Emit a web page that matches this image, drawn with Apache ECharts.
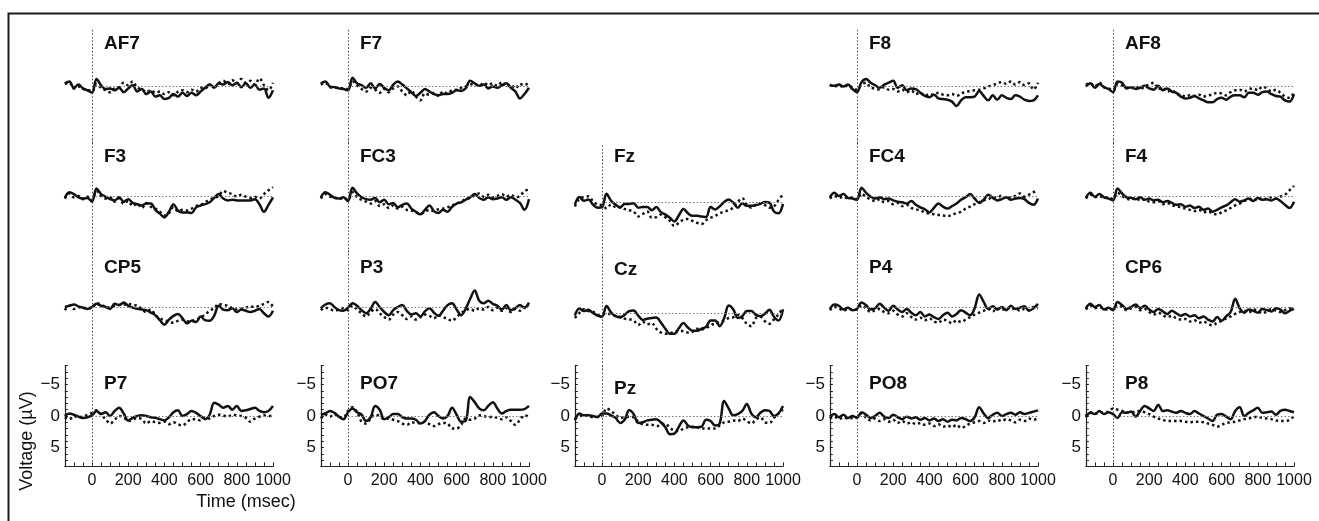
<!DOCTYPE html>
<html><head><meta charset="utf-8">
<script src="https://cdn.jsdelivr.net/npm/echarts@6/dist/echarts.min.js"></script>
<style>html,body{margin:0;padding:0;background:#fff}#c{width:1319px;height:521px}</style>
</head><body><div id="c"></div>
<script>
// time points (ms)
const times = [-150,-125,-100,-75,-50,-25,0,25,50,75,100,125,150,175,200,225,250,275,300,325,350,375,400,425,450,475,500,525,550,575,600,625,650,675,700,725,750,775,800,825,850,875,900,925,950,975,1000];
const xTickLabels = [0,200,400,600,800,1000];
const yTickLabels = [-5,0,5];

// voltages (µV), negative plotted upward
const AF7_solid = [-0.5,-0.8,0.2,-0.3,0.3,0.6,1.0,-1.2,-0.2,0.4,0.3,0.6,0.2,0.9,0.3,-0.2,0.8,0.4,1.2,0.8,1.6,1.4,2.0,1.8,1.2,1.6,1.0,1.5,1.0,1.4,0.8,0.2,-0.3,0.2,-0.5,-0.3,-0.7,-0.2,-0.6,0.1,-0.5,0.2,-0.3,0.5,0.3,1.8,0.6];
const AF7_dotted = [-0.4,-0.6,0.3,0,0.4,0.5,0.8,-0.4,0.2,0.6,0.9,0.3,0.1,-0.6,-0.2,-0.8,0.2,0.4,0.9,0.6,1.0,0.8,1.2,0.9,1.4,0.8,0.6,0.9,0.5,0.8,0.2,0.3,-0.3,0.1,-0.5,-0.9,-0.4,-1.0,-0.5,-1.2,-0.6,-0.9,-0.3,-1.3,-0.2,0.6,-0.6];
const F7_solid = [-0.5,-0.8,0.0,0.1,0.3,0.4,0.6,-1.4,-0.5,-0.2,0.2,-0.5,0.3,-0.4,0.2,0.6,-0.3,-0.8,-0.3,0.3,0.9,1.5,1.0,0.4,0.8,1.2,1.4,1.2,1.2,1.0,0.6,0.7,0.3,-0.9,-0.5,-0.1,-0.3,0.3,0.0,0.2,-0.2,-0.5,0.2,0.8,1.9,1.2,0.2];
const F7_dotted = [-0.3,-0.6,0.1,0.2,0.2,0.3,0.4,-0.8,-0.2,0.4,0.8,0.2,0.5,1.0,0.4,0.9,0.3,0.0,0.8,1.4,0.7,1.6,2.2,1.1,1.3,1.0,1.5,0.8,1.1,0.6,0.5,0.2,0.0,-0.3,-0.4,-0.1,-0.6,-0.2,-0.5,-0.1,-0.7,0.0,-0.3,0.3,-0.4,-0.2,-0.7];
const F8_solid = [-0.2,-0.1,-0.3,0.0,-0.3,0.4,0.9,-0.7,-1.2,-0.6,-0.2,0.2,-0.3,-0.6,-0.9,0.2,-0.2,0.6,0.3,0.4,1.0,1.5,1.7,1.3,1.9,2.0,2.1,2.4,3.1,2.2,1.7,1.7,1.6,0.7,1.5,2.2,1.4,2.1,1.4,1.8,2.0,1.4,1.6,2.1,2.3,2.2,1.4];
const F8_dotted = [-0.3,0.0,-0.2,0.1,-0.2,0.2,0.5,-0.3,-0.6,0.2,0.3,0.5,0.1,0.5,0.4,0.8,0.5,0.9,0.6,1.2,1.0,1.5,1.2,1.3,1.0,1.3,1.4,1.2,1.5,1.1,0.9,0.7,0.6,0.5,0.3,0.0,-0.2,-0.5,-0.7,-0.4,-0.8,-0.3,-0.7,-0.2,-0.5,0.5,-0.6];
const AF8_solid = [0.0,-0.5,0.2,-0.4,0.1,0.4,0.9,-0.8,-0.6,0.3,0.1,0.4,0.2,-0.1,0.3,0.5,-0.1,0.6,0.3,0.8,1.0,1.6,1.9,1.8,1.5,1.9,2.2,2.5,2.5,2.0,1.8,2.1,1.6,1.4,1.4,1.7,1.0,1.0,1.3,0.9,0.8,1.2,1.5,1.6,2.2,2.4,1.2];
const AF8_dotted = [-0.3,-0.5,0.0,-0.6,0.1,0.3,0.6,-0.4,-0.2,0.1,0.3,0.0,0.4,0.0,-0.3,-0.6,0.4,0.2,0.8,0.6,1.2,1.3,1.6,1.4,1.5,1.3,1.6,1.4,1.3,1.0,1.1,1.4,0.9,0.6,0.5,0.8,0.4,0.3,0.6,0.0,0.3,0.8,0.5,1.0,1.6,1.8,0.9];

const F3_solid = [0.3,-0.6,-0.3,0.2,0.4,0.3,0.9,-1.2,-0.3,0.1,0.5,0.7,0.2,0.9,0.5,1.1,1.3,1.5,1.2,1.2,2.2,2.8,3.4,2.5,1.3,2.3,2.6,2.6,2.7,1.8,1.5,1.3,1.0,0.3,-0.3,0.4,0.7,0.6,0.7,0.7,0.7,0.7,0.5,1.3,2.5,1.4,0.2];
const F3_dotted = [0.4,-0.4,0.2,0.0,0.5,0.1,0.6,-0.8,0.0,0.4,0.2,0.9,0.4,1.2,0.8,1.6,1.2,1.9,1.1,1.7,2.0,2.5,3.1,2.7,1.8,2.4,2.2,2.3,2.0,1.6,1.4,1.0,0.6,0.3,0.0,-0.8,-0.5,-0.3,0.1,-0.2,0.1,0.3,0.1,0.4,-0.3,-0.9,-1.4];
const FC3_solid = [0.2,-0.6,-0.2,0.3,0.4,0.2,0.8,-1.3,-0.4,0.2,0.5,0.6,0.3,1.0,0.6,1.3,1.1,1.8,1.4,1.2,2.0,2.5,2.9,2.2,1.5,2.4,2.7,2.2,2.5,1.7,1.2,1.0,0.6,0.2,-0.3,0.3,0.6,0.2,0.5,0.4,0.2,0.6,0.2,0.6,1.1,2.2,0.5];
const FC3_dotted = [0.4,-0.3,0.1,0.2,0.5,0.3,0.6,-0.6,0.2,0.6,0.9,1.2,0.8,1.6,1.3,1.9,1.5,2.0,1.7,2.2,2.3,2.6,2.8,2.5,2.2,2.4,2.1,2.0,1.8,1.5,1.2,0.9,0.5,0.3,-0.1,-0.4,0.1,-0.2,0.2,0.0,-0.3,0.1,-0.2,0.2,0.0,-0.8,-1.0];
const Fz_solid = [0.4,-0.8,-0.2,-0.4,0.4,0.9,0.8,-1.3,-0.2,0.4,0.9,0.3,0.3,0.2,0.9,0.8,0.8,1.3,0.8,1.6,2.0,2.5,3.1,2.1,1.1,1.8,2.2,2.2,2.3,2.4,0.8,1.2,0.7,0.0,-0.4,0.1,0.9,0.2,0.6,0.6,0.5,0.3,0.0,0.1,1.5,1.8,0.3];
const Fz_dotted = [0.7,-0.5,-0.8,-0.9,-0.1,0.4,0.5,1.0,0.4,0.8,0.8,1.1,1.3,1.5,2.3,1.9,1.5,2.5,2.4,2.0,2.4,3.0,3.8,3.3,2.8,2.7,3.0,3.3,3.5,2.9,2.5,2.2,1.8,1.5,1.3,0.9,0.0,-0.6,0.4,0.9,0.4,0.2,0.5,0.9,0.7,-0.3,-1.2];
const FC4_solid = [0.2,-0.5,0.0,-0.3,0.3,0.4,0.6,-1.3,-0.5,0.1,0.4,0.2,0.5,0.4,0.7,0.9,1.0,1.2,0.8,1.4,1.8,2.1,2.6,1.9,1.2,1.7,2.0,1.6,1.2,0.6,0.2,-0.3,0.4,1.1,0.6,-0.2,0.3,0.7,0.5,0.2,0.6,0.4,0.3,0.5,1.1,1.4,0.4];
const FC4_dotted = [0.4,0.0,0.3,0.1,0.4,0.2,0.5,-0.4,0.2,0.5,0.8,0.5,1.0,0.8,1.3,1.1,1.6,1.4,1.9,2.1,2.3,2.6,2.8,2.9,3.0,3.1,3.2,3.0,2.7,2.5,2.0,1.7,1.3,1.0,0.7,0.5,0.2,0.3,-0.1,0.4,0.2,0.0,-0.4,0.1,-0.2,-0.6,-0.9];
const F4_solid = [0.3,-0.5,0.1,-0.3,0.2,0.4,0.7,-1.2,-0.4,0.2,0.3,0.5,0.2,0.6,0.4,0.7,0.6,1.0,0.8,1.1,1.4,1.3,1.7,1.5,1.9,1.7,2.2,2.0,2.5,2.2,1.8,1.5,1.0,0.5,0.9,0.7,0.4,0.8,0.3,0.6,0.5,0.7,0.4,0.8,1.4,1.9,0.9];
const F4_dotted = [0.4,-0.2,0.2,0.0,0.3,0.2,0.5,-0.5,0.0,0.4,0.6,0.3,0.7,0.5,0.9,1.0,0.8,1.3,1.1,1.5,1.6,1.8,2.0,2.2,2.4,2.2,2.6,2.4,2.8,2.9,2.6,2.3,1.9,1.5,1.2,0.8,0.6,0.4,0.7,0.3,0.5,0.2,0.4,0.1,-0.2,-0.9,-1.6];

const CP5_solid = [0.0,-0.2,-0.4,-0.1,0.1,0.3,0.0,-0.5,-0.2,0.0,0.3,-0.5,-0.3,-0.7,-0.2,0.1,0.3,0.4,0.5,0.9,1.3,2.1,2.8,2.0,1.4,1.1,1.8,2.6,2.2,2.4,1.5,2.1,2.2,1.4,-0.2,0.4,0.5,0.2,0.8,0.4,0.6,0.8,0.6,0.3,1.0,1.5,0.6];
const CP5_dotted = [0.5,-0.2,0.3,0.0,0.2,0.1,0.2,-0.6,-0.4,0.0,0.1,-0.2,-0.3,-0.4,-0.5,-0.3,-0.2,0.3,0.8,0.4,1.3,1.8,2.1,2.3,2.5,2.2,2.0,2.3,2.2,2.0,1.6,1.2,0.6,0.2,-0.5,-0.3,-0.2,0.2,0.4,0.3,0.1,-0.1,0.0,-0.2,-0.5,-0.8,0.0];
const P3_solid = [0.2,-0.4,-0.6,0.0,0.5,0.6,0.1,-0.6,-0.2,0.5,1.0,0.3,-0.8,0.0,0.8,1.3,0.5,0.0,-0.3,0.6,1.2,1.0,1.5,0.7,0.2,0.9,1.4,0.6,-0.3,-0.6,0.4,1.3,0.3,-1.3,-2.6,-1.0,-0.6,-1.0,-0.5,-0.2,0.4,-0.3,0.5,0.2,-0.3,0.1,-0.7];
const P3_dotted = [0.5,0.1,0.3,0.6,0.4,0.2,0.5,-0.2,0.4,1.0,1.5,0.8,0.3,1.0,1.6,2.0,1.2,0.8,1.3,1.9,1.5,2.0,1.6,1.2,1.4,1.8,1.3,1.6,1.9,2.2,1.6,1.0,0.5,0.3,0.6,0.2,0.4,0.0,0.5,0.1,0.6,0.2,0.8,0.3,0.6,0.1,-0.3];
const Cz_solid = [0.4,-0.7,-0.3,-0.5,0.0,0.4,0.6,-1.1,-0.1,0.5,0.7,0.3,-0.3,-0.4,0.4,1.1,0.9,0.8,0.7,1.5,2.5,3.3,3.3,2.4,1.6,2.3,2.8,2.8,2.5,2.2,1.2,1.2,2.1,0.8,-1.2,-0.6,0.8,0.5,-0.3,-0.3,0.3,0.5,0.1,-0.5,0.6,1.2,-0.6];
const Cz_dotted = [0.8,0.0,-0.6,-0.3,-0.2,0.3,0.2,0.1,0.2,0.5,0.6,0.9,1.0,1.2,1.9,1.4,1.8,1.6,2.5,3.1,3.3,3.2,3.0,2.8,2.9,3.1,3.0,2.5,2.6,2.4,2.0,1.6,1.5,1.2,0.8,0.7,0.3,0.8,1.7,2.1,0.8,0.6,1.3,1.7,1.0,0.2,-0.8];
const P4_solid = [0.3,-0.4,-0.2,0.4,0.1,0.5,0.3,-0.7,-0.3,0.4,0.2,-0.5,0.1,0.6,-0.2,0.4,0.8,0.3,0.9,1.3,0.8,1.5,1.2,1.6,1.9,1.3,0.9,1.5,1.1,0.5,0.9,1.3,0.2,-2.0,-0.8,0.3,-0.1,0.4,0.0,0.5,-0.2,0.3,0.1,-0.1,0.6,0.2,-0.5];
const P4_dotted = [0.5,0.0,0.2,0.6,0.3,0.4,0.4,-0.3,0.2,0.8,0.5,0.3,0.8,1.0,0.6,1.2,1.5,1.0,1.6,2.0,1.7,2.1,1.8,2.3,2.5,2.0,2.2,2.6,2.1,2.4,2.0,1.6,1.2,0.9,0.6,0.3,0.7,0.2,0.5,0.1,0.4,0.2,0.6,0.3,0.5,0.0,0.2];
const CP6_solid = [0.2,-0.5,0.0,-0.3,0.4,0.1,0.5,-0.8,-0.3,0.3,0.0,-0.4,0.2,-0.2,0.4,0.8,0.3,0.7,1.1,0.6,1.0,1.4,1.1,1.5,1.3,1.8,1.5,2.0,2.3,1.6,2.2,1.5,0.8,-1.3,0.2,0.9,0.4,0.6,0.9,0.3,0.5,0.7,0.2,0.4,1.0,0.6,0.3];
const CP6_dotted = [0.4,-0.2,0.2,0.0,0.3,0.4,0.3,-0.3,0.0,0.5,0.2,0.0,0.5,0.3,0.8,1.2,0.9,1.3,1.6,1.4,1.8,2.0,1.9,2.3,2.1,2.5,2.3,2.7,2.9,2.5,2.2,1.8,1.5,1.1,0.8,0.6,0.9,0.4,0.6,1.0,0.7,0.3,0.6,0.8,0.5,0.2,0.5];

const P7_solid = [0.0,-0.4,-0.2,0.1,0.3,0.2,-0.1,-0.8,-0.3,-0.6,0.0,-0.8,-1.3,-0.4,0.7,0.3,0.0,-0.1,0.0,0.2,0.3,0.5,0.7,0.2,-0.6,-0.9,0.0,-0.3,-0.8,-0.5,0.0,0.5,-0.2,-2.1,-1.8,-1.3,-1.6,-1.0,-1.6,-0.8,-0.9,-1.1,-1.3,-0.8,-0.6,-0.8,-1.6];
const P7_dotted = [0.2,0.5,0.0,0.2,0.1,-0.2,-0.5,-0.9,-0.2,0.5,1.2,0.6,0.0,0.2,0.8,0.6,0.3,0.5,1.2,0.8,1.0,1.1,0.9,1.3,1.0,1.3,1.5,1.0,0.5,0.5,0.7,0.2,0.4,0.0,-0.2,-0.1,0.1,-0.2,-0.1,0.0,0.3,0.9,0.4,0.1,-0.1,0.0,0.0];
const PO7_solid = [-0.2,-0.4,-0.8,-0.5,0.1,0.5,-0.6,-1.2,-0.6,-0.2,0.8,0.2,-1.6,-1.0,0.5,0.2,-0.3,-0.3,0.2,0.4,0.4,0.6,1.2,0.8,-0.2,-0.6,0.0,0.4,0.0,-1.3,-0.2,0.9,0.8,-3.0,-2.2,-1.2,-0.9,-1.6,-2.2,-1.2,-0.4,-0.8,-1.0,-1.0,-1.0,-1.1,-1.6];
const PO7_dotted = [0.4,-0.2,0.1,-0.3,0.2,0.2,-0.8,-1.4,-0.6,0.9,1.2,0.4,-0.2,0.0,0.5,0.4,0.6,0.8,1.2,1.4,1.0,1.1,1.1,0.9,1.3,1.6,1.3,1.1,1.2,2.0,2.0,1.4,0.4,0.6,0.4,-0.1,0.0,0.2,0.1,0.3,0.5,0.2,0.8,1.4,0.6,-0.1,0.1];
const Pz_solid = [0.7,-0.4,-0.1,-0.1,0.0,0.2,-0.4,-0.4,-0.1,0.3,1.1,0.6,-0.9,-0.3,1.1,1.0,0.7,0.6,0.5,1.0,1.8,2.9,2.8,1.7,0.7,1.5,1.8,1.8,1.7,0.6,0.8,1.5,1.2,-2.4,-1.2,-0.1,-0.3,-0.8,-1.9,-0.4,0.2,-0.5,-0.9,-0.8,0.0,-0.4,-1.6];
const Pz_dotted = [0.4,0.1,-0.2,0.0,0.2,0.1,0.0,-1.2,-0.8,-0.2,0.3,0.2,0.1,0.2,0.9,1.3,1.4,1.4,1.6,1.5,1.2,1.9,2.3,2.4,2.0,1.8,1.7,1.8,2.0,2.0,2.0,2.0,1.5,1.0,0.9,0.7,0.8,0.4,0.8,1.2,0.6,0.2,1.0,1.1,0.3,-0.4,-1.0];
const PO8_solid = [0.1,-0.3,0.2,-0.2,0.3,0.0,0.3,-0.6,-0.2,0.3,0.0,-0.5,0.1,0.3,-0.2,0.2,0.5,0.1,0.4,0.2,0.6,0.3,0.7,0.4,0.8,0.5,0.9,0.6,0.7,0.3,0.5,0.8,0.2,-1.4,-0.4,0.3,-0.2,-0.5,0.0,-0.3,-0.5,-0.2,-0.6,-0.3,-0.5,-0.7,-0.9];
const PO8_dotted = [0.4,0.1,0.5,0.2,0.4,0.3,0.2,-0.4,0.3,0.7,0.4,0.8,0.5,0.9,0.6,1.1,0.8,1.2,1.0,1.3,1.1,1.4,1.2,1.6,1.3,1.7,1.5,1.8,1.4,1.9,1.6,1.2,1.0,0.8,1.1,0.7,0.9,0.6,0.8,0.5,0.7,1.0,0.6,0.8,0.4,0.6,0.3];
const P8_solid = [0.2,-0.5,-0.3,-0.8,-0.3,-0.6,-0.3,0.3,-0.6,-0.5,-0.7,0.1,-0.8,-1.6,-1.2,-0.8,-1.8,-0.8,-0.9,-0.7,-0.5,-0.8,-0.5,-0.3,-0.8,-0.4,0.0,0.4,0.8,-0.2,-0.3,0.1,0.5,-0.8,-1.4,0.0,-0.5,-0.9,-1.3,-0.5,-0.6,-0.7,-0.2,-0.8,-1.0,-0.8,-0.6];
const P8_dotted = [0.0,-0.6,-0.4,-0.5,-0.6,-0.7,-1.2,-1.0,-0.8,-0.6,-0.6,-0.7,-0.8,-0.6,-0.3,0.1,0.4,0.6,0.8,0.8,0.8,0.8,0.9,1.0,0.9,0.9,1.0,1.2,1.4,1.7,1.4,1.1,1.0,0.9,0.7,0.5,0.4,0.2,0.1,0.3,0.4,0.5,0.7,0.8,0.8,0.6,0.0];

const panelNames = ['AF7','F7','F8','AF8','F3','FC3','Fz','FC4','F4','CP5','P3','Cz','P4','CP6','P7','PO7','Pz','PO8','P8'];
const panelCols  = [0,1,3,4, 0,1,2,3,4, 0,1,2,3,4, 0,1,2,3,4];
const panelRows  = [0,0,0,0, 1,1,1,1,1, 2,2,2,2,2, 3,3,3,3,3];
const solidData  = [AF7_solid,F7_solid,F8_solid,AF8_solid,F3_solid,FC3_solid,Fz_solid,FC4_solid,F4_solid,CP5_solid,P3_solid,Cz_solid,P4_solid,CP6_solid,P7_solid,PO7_solid,Pz_solid,PO8_solid,P8_solid];
const dottedData = [AF7_dotted,F7_dotted,F8_dotted,AF8_dotted,F3_dotted,FC3_dotted,Fz_dotted,FC4_dotted,F4_dotted,CP5_dotted,P3_dotted,Cz_dotted,P4_dotted,CP6_dotted,P7_dotted,PO7_dotted,Pz_dotted,PO8_dotted,P8_dotted];

// layout
const FONT = "'Liberation Sans', Arial, sans-serif";
const colZeroX = [92, 348, 602, 857, 1113];
const rowBase = [86.5, 196, 307, 416];
const col3Base = [86.5, 202, 313, 416];
const rowLabelY = [44, 157, 268, 384];
const col3LabelY = [44, 157, 270, 389];
const pxPerMs = 0.181, pxPerUv = 6.3;

const chart = echarts.init(document.getElementById('c'), null, {renderer:'canvas'});
const grid = [], xAxis = [], yAxis = [], series = [], graphic = [];

panelNames.forEach((name, i) => {
  const c = panelCols[i], r = panelRows[i];
  const zx = colZeroX[c];
  const base = c === 2 ? col3Base[r] : rowBase[r];
  const ymax = r === 3 ? 8 : 9;
  const bottom = r === 3;
  grid.push({left: zx - 150*pxPerMs, top: base - ymax*pxPerUv, width: 1150*pxPerMs, height: 2*ymax*pxPerUv, containLabel:false});
  xAxis.push({
    gridIndex:i, type:'value', min:-150, max:1000, interval:50, show:bottom,
    axisLine:{show:true, onZero:false, lineStyle:{color:'#222', width:1.2}},
    axisTick:{show:true, inside:true, length:4, lineStyle:{color:'#222'}},
    axisLabel:{show:true, color:'#111', fontSize:16, fontFamily:FONT, margin:6, hideOverlap:false,
      formatter: v => xTickLabels.includes(v) ? String(v) : ''},
    splitLine:{show:false}
  });
  yAxis.push({
    gridIndex:i, type:'value', min:-ymax, max:ymax, interval:1, inverse:true, show:bottom,
    axisLine:{show:true, onZero:false, lineStyle:{color:'#222', width:1.2}},
    axisTick:{show:true, inside:true, length:3, lineStyle:{color:'#222'}},
    axisLabel:{show:true, color:'#111', fontSize:17, fontFamily:FONT, margin:5,
      formatter: v => yTickLabels.includes(v) ? String(v).replace('-', '\u2212') : ''},
    splitLine:{show:false}
  });
  series.push({
    type:'line', xAxisIndex:i, yAxisIndex:i, z:3,
    data: times.map((t, j) => [t, solidData[i][j]]),
    showSymbol:false, smooth:0.35, silent:true, animation:false,
    lineStyle:{color:'#111', width:2.5},
    markLine:{
      silent:true, symbol:'none', animation:false, label:{show:false},
      data:[
        [{coord:[0,0], lineStyle:{color:'#777', width:1, type:[1.5,2]}}, {coord:[1000,0]}],
        {xAxis:0, lineStyle:{color:'#444', width:1, type:[1.5,2]}}
      ]
    }
  });
  series.push({
    type:'line', xAxisIndex:i, yAxisIndex:i, z:2,
    data: times.map((t, j) => [t, dottedData[i][j]]),
    showSymbol:false, smooth:0.35, silent:true, animation:false,
    lineStyle:{color:'#111', width:2.5, type:[2.5,3]}
  });
  graphic.push({
    type:'text', x: zx + 12, y: (c === 2 ? col3LabelY[r] : rowLabelY[r]),
    style:{text:name, fill:'#111', font:'bold 19px ' + FONT, textVerticalAlign:'middle', verticalAlign:'middle'}
  });
});

graphic.push({type:'rect', shape:{x:8.5, y:13.5, width:1400, height:600}, style:{fill:'none', stroke:'#1a1a1a', lineWidth:2}, z:10});
graphic.push({type:'text', x:246, y:502, style:{text:'Time (msec)', fill:'#111', font:'18px ' + FONT, textAlign:'center', align:'center', textVerticalAlign:'middle', verticalAlign:'middle'}});
graphic.push({type:'text', x:27, y:441, rotation:Math.PI/2, style:{text:'Voltage (\u00b5V)', fill:'#111', font:'18px ' + FONT, textAlign:'center', align:'center', textVerticalAlign:'middle', verticalAlign:'middle'}});

chart.setOption({animation:false, backgroundColor:'#fff', grid, xAxis, yAxis, series, graphic});
</script></body></html>
